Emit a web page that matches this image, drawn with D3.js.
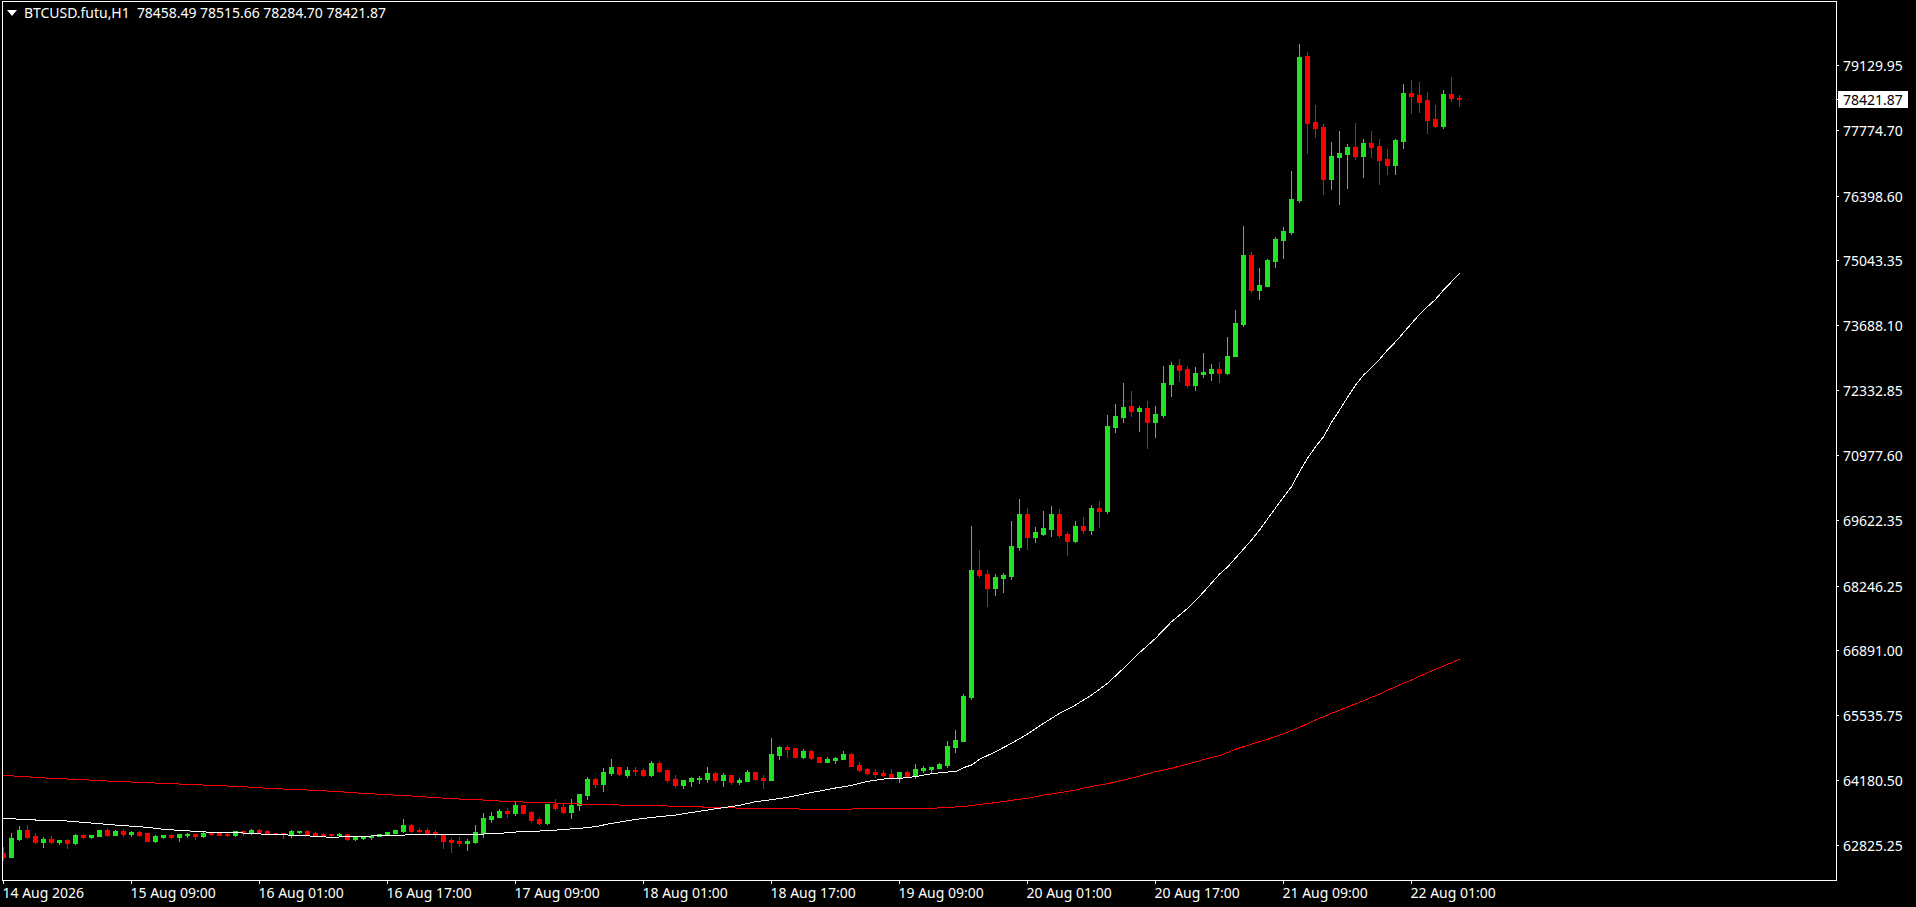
<!DOCTYPE html>
<html><head><meta charset="utf-8">
<script src="https://cdn.jsdelivr.net/npm/d3@7/dist/d3.min.js"></script>
<style>html,body{margin:0;padding:0;background:#000;overflow:hidden}svg{display:block}text{font-family:"Noto Sans",sans-serif;font-size:14px;fill:#fff;white-space:pre}</style>
</head><body><svg id="c" width="1916" height="907"></svg>
<script>
const symbol="BTCUSD.futu,H1";
const lastQuote=[78458.49,78515.66,78284.70,78421.87];
const priceTicks=[79129.95,77774.70,76398.60,75043.35,73688.10,72332.85,70977.60,69622.35,68246.25,66891.00,65535.75,64180.50,62825.25];
const timeTickBars=[0,16,32,48,64,80,96,112,128,144,160,176];
const timeTickLabels=["14 Aug 2026","15 Aug 09:00","16 Aug 01:00","16 Aug 17:00","17 Aug 09:00","18 Aug 01:00","18 Aug 17:00","19 Aug 09:00","20 Aug 01:00","20 Aug 17:00","21 Aug 09:00","22 Aug 01:00"];
const opens=[62668,62585,62954,63149,63024,62898,62961,62898,62940,62877,63044,63003,63024,63149,63044,63128,63065,63107,63086,62919,63003,63044,63003,63044,63065,63024,63086,63086,63065,63044,63128,63086,63149,63128,63086,63086,63065,63107,63128,63086,63065,63065,63044,63065,62961,62982,63003,63024,63044,63086,63128,63253,63156,63149,63107,63044,62940,62919,62877,62898,63086,63379,63421,63546,63504,
63671,63525,63379,63295,63692,63630,63525,63671,63880,64215,64110,64340,64466,64298,64403,64403,64298,64549,64403,64215,64089,64173,64215,64215,64340,64194,64298,64152,64173,64361,64236,64194,64716,64884,64863,64675,64800,64675,64570,64612,64633,64737,64507,64424,64361,64340,64319,64236,64361,64278,64403,64424,64445,64507,64884,
65009,65928,68583,68499,68207,68416,68458,69064,69753,69273,69335,69440,69753,69335,69189,69503,69419,69879,69816,71571,71781,72010,71906,71969,71676,71822,72470,72867,72784,72449,72679,72700,72784,72700,73055,73724,75166,74435,74519,75041,75480,75647,76316,79326,77946,77842,76755,77215,77277,77424,77235,77507,77445,77173,77047,77549,78552,78510,78406,78009,77863,78531,78458.49];
const highs=[62787,63079,63233,63253,63079,63003,63030,62940,62961,63065,63065,63044,63149,63191,63149,63170,63128,63128,63086,63044,63044,63065,63065,63086,63065,63107,63107,63086,63086,63128,63128,63170,63170,63149,63086,63086,63149,63128,63149,63107,63086,63065,63086,63065,63024,63024,63044,63065,63107,63149,63379,63274,63191,63191,63149,63065,62982,63003,62961,63253,63504,63525,63588,63609,63734,
63671,63546,63421,63692,63797,63692,63797,63901,64257,64236,64445,64633,64466,64466,64466,64445,64591,64591,64403,64298,64194,64257,64278,64466,64361,64340,64298,64236,64403,64361,64298,65072,64905,64925,64863,64842,64821,64675,64675,64675,64800,64758,64570,64445,64424,64403,64424,64361,64403,64528,64487,64466,64549,65009,65239,
65991,69503,69001,68583,68499,68520,69607,70067,69879,69482,69816,69921,69858,69377,69607,69691,69941,70025,71822,72052,72491,72324,72010,72115,72010,72846,72930,72993,72846,72826,73118,72888,72930,73453,74017,75773,75229,74895,75083,75542,75752,76922,79576,79409,78301,77904,77528,77758,77486,77925,77591,77758,77591,77382,77591,78740,78824,78782,78573,78301,78615,78887,78515.66];
const lows=[62522,62585,62940,62982,62884,62801,62877,62856,62780,62863,62982,62989,63024,63024,63044,63024,63024,63024,62919,62905,62982,62982,62919,63003,62961,63003,63044,63044,63024,63024,63044,63065,63107,63065,63058,62982,63003,63086,63065,63024,63024,63024,63037,62947,62947,62968,62961,63024,63044,63086,63107,63107,63107,63044,63003,62773,62689,62815,62731,62877,63003,63316,63421,63421,63462,
63504,63316,63274,63274,63567,63504,63400,63567,63797,64048,63964,64298,64298,64257,64298,64278,64278,64361,64152,64048,64027,64069,64131,64152,64152,64069,64110,64110,64173,64194,64027,64194,64633,64675,64675,64654,64633,64570,64570,64549,64633,64487,64382,64319,64257,64278,64222,64152,64264,64236,64361,64361,64445,64466,64779,
65009,65887,68437,67830,68060,68123,68395,69001,69022,69168,69314,69294,69273,68896,69168,69356,69335,69482,69774,71467,71676,71801,71488,71133,71362,71781,72219,72533,72408,72345,72617,72554,72512,72679,73055,73683,74393,74247,74519,74916,75104,75605,76274,77298,77633,76441,76546,76232,76567,77173,76797,77215,76650,76859,76859,77403,78134,78155,77716,77842,77821,78385,78284.70];
const closes=[62578,62982,63149,63003,62905,62961,62898,62940,62877,63044,63003,63044,63149,63044,63128,63065,63107,63044,62919,63024,63044,63003,63065,63065,63024,63086,63065,63044,63044,63128,63086,63149,63114,63065,63065,63065,63128,63128,63065,63044,63044,63044,63065,62961,63003,63003,63024,63065,63107,63149,63253,63128,63128,63086,63065,62919,62898,62877,62919,63107,63400,63442,63546,63504,63671,
63504,63358,63295,63692,63609,63525,63671,63901,64215,64110,64361,64466,64319,64403,64382,64298,64549,64382,64194,64089,64194,64236,64236,64340,64194,64298,64152,64194,64361,64215,64194,64737,64884,64842,64675,64800,64654,64570,64633,64654,64737,64487,64403,64340,64319,64298,64236,64361,64278,64424,64445,64466,64528,64905,65030,
65949,68583,68478,68207,68437,68478,69085,69753,69273,69377,69461,69753,69314,69189,69503,69419,69879,69816,71592,71801,71989,71906,71969,71676,71843,72491,72867,72763,72449,72700,72721,72784,72700,73055,73745,75166,74435,74539,75062,75501,75668,76337,79305,77925,77821,76755,77235,77298,77424,77235,77507,77424,77152,77047,77570,78552,78490,78364,77988,77863,78531,78448,78421.87];
const whiteBars=[0,4,8,10,14,18,20,22,24,26,30,33,37,41,44,46,50,54,60,62,64,68,72,74,76,78,80,84,88,90,92,94,96,98,100,102,104,106,108,110,112,114,116,118,119,120,121,122,124,126,128,130,132,134,136,138,140,142,144,146,148,149,150,151,152,153,154,155,156,157,158,159,160,161,162,163,164,165,166,167,168,169,170,171,172,173,174,175,176,177,178,179,180,181,182];
const whiteValues=[63393,63358,63337,63309,63253,63205,63163,63142,63121,63100,63086,63058,63037,62996,63017,63024,63044,63058,63065,63079,63107,63135,63184,63219,63288,63344,63393,63462,63567,63616,63664,63741,63783,63832,63901,63964,64027,64082,64166,64215,64229,64264,64326,64361,64368,64452,64507,64626,64786,64960,65155,65378,65587,65761,65970,66214,66528,66855,67155,67503,67782,67942,68123,68311,68499,68646,68834,69022,69210,69419,69649,69879,70109,70324,70638,70917,71160,71370,71669,71927,72192,72449,72658,72812,72986,73181,73355,73543,73738,73926,74087,74240,74435,74609,74783];
const redBars=[0,4,6,10,12,15,18,21,24,27,30,33,36,39,42,45,48,51,54,57,60,62,65,67,70,72,75,78,83,86,90,93,98,101,105,108,113,116,118,120,122,124,126,128,130,132,134,136,138,140,142,144,146,148,150,152,154,156,158,160,162,164,166,168,170,172,174,176,178,180,182];
const redValues=[64292,64250,64229,64201,64180,64159,64138,64117,64096,64075,64055,64020,63999,63978,63950,63915,63887,63860,63825,63797,63776,63755,63734,63727,63706,63692,63685,63664,63651,63637,63616,63602,63595,63581,63581,63602,63602,63602,63623,63637,63685,63720,63769,63811,63880,63929,63985,64061,64117,64194,64277,64368,64438,64528,64619,64702,64835,64946,65044,65162,65295,65448,65587,65720,65852,65991,66145,66284,66437,66577,66716];

const svg=d3.select("#c");
const plot={l:2,r:1836,t:1,b:880};
const x=d3.scaleLinear().domain([0,182]).range([3.5,1459.5]);
const y=d3.scaleLinear().domain([62825.25,79129.95]).range([845.5,65.5]);
const snap=v=>Math.round(v);
svg.append("rect").attr("width",1916).attr("height",907).attr("fill","#000");
svg.append("defs").append("clipPath").attr("id","pc").append("rect").attr("x",plot.l+1).attr("y",plot.t+1).attr("width",plot.r-plot.l-1).attr("height",plot.b-plot.t-1);
const g=svg.append("g").attr("clip-path","url(#pc)").attr("shape-rendering","crispEdges");
const green="#22E022",red="#FF0000";
const idx=d3.range(opens.length);
const col=i=>closes[i]>=opens[i]?green:red;
g.selectAll("line.w").data(idx).join("line").attr("class","w")
 .attr("x1",i=>x(i)).attr("x2",i=>x(i)).attr("y1",i=>snap(y(highs[i]))).attr("y2",i=>snap(y(lows[i]))+1)
 .attr("stroke",col).attr("stroke-width",1);
g.selectAll("rect.b").data(idx).join("rect").attr("class","b")
 .attr("x",i=>x(i)-2.5).attr("width",5)
 .attr("y",i=>snap(y(Math.max(opens[i],closes[i]))))
 .attr("height",i=>Math.max(1,snap(y(Math.min(opens[i],closes[i])))-snap(y(Math.max(opens[i],closes[i])))+1))
 .attr("fill",col);
const ln=(bars,vals,c)=>g.append("path").datum(bars).attr("fill","none").attr("stroke",c).attr("stroke-width",1)
 .attr("d",d3.line().x(b=>x(b)).y((b,i)=>y(vals[i])));
ln(redBars,redValues,"#FF0000");
ln(whiteBars,whiteValues,"#FFFFFF");

const f=svg.append("g").attr("shape-rendering","crispEdges");
f.append("rect").attr("x",plot.l+.5).attr("y",plot.t+.5).attr("width",plot.r-plot.l).attr("height",plot.b-plot.t).attr("fill","none").attr("stroke","#fff");
priceTicks.forEach(p=>{
 const py=Math.floor(y(p));
 f.append("line").attr("x1",plot.r+1).attr("x2",plot.r+3).attr("y1",py+.5).attr("y2",py+.5).attr("stroke","#fff");
 svg.append("text").attr("x",1843).attr("y",py+6).text(p.toFixed(2));
});
timeTickBars.forEach((b,i)=>{
 f.append("line").attr("x1",x(b)).attr("x2",x(b)).attr("y1",plot.b+1).attr("y2",plot.b+4).attr("stroke","#fff");
 svg.append("text").attr("x",x(b)-1).attr("y",898).text(timeTickLabels[i]);
});
const last=lastQuote[3], ly=snap(y(last));
f.append("rect").attr("x",1838).attr("y",ly-8).attr("width",70).attr("height",17).attr("fill","#fff");
f.append("line").attr("x1",plot.r+1).attr("x2",plot.r+2).attr("y1",ly+.5).attr("y2",ly+.5).attr("stroke","#fff");
svg.append("text").attr("x",1843).attr("y",ly+6).style("fill","#000").text(last.toFixed(2));
svg.append("path").attr("d",d3.line()([[7,10],[17,10],[12,16]])+"Z").attr("fill","#fff");
svg.append("text").attr("x",24).attr("y",18).style("letter-spacing","-0.03px").text(symbol+"  "+lastQuote.map(v=>v.toFixed(2)).join(" "));
</script></body></html>
